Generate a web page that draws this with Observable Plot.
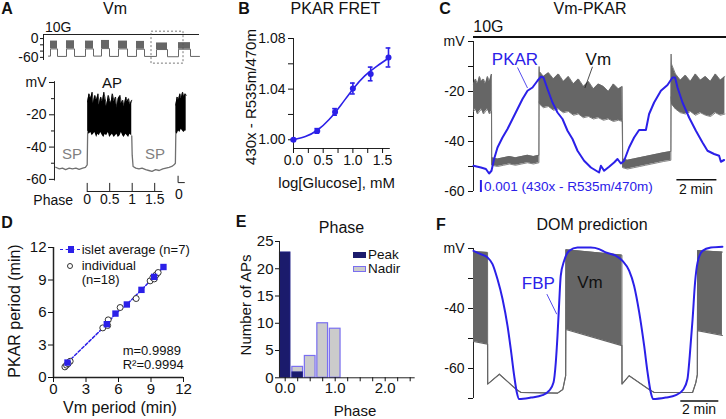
<!DOCTYPE html>
<html><head><meta charset="utf-8">
<script src="https://cdn.jsdelivr.net/npm/d3@7"></script>
<script src="https://cdn.jsdelivr.net/npm/@observablehq/plot@0.6"></script>
<style>
body{margin:0;background:#fff;}
#root{position:relative;width:726px;height:419px;overflow:hidden;font-family:'Liberation Sans',Arial,Helvetica,sans-serif;color:#111;background:#fff;}
.lb{position:absolute;white-space:nowrap;line-height:1;}
.bx{position:absolute;box-sizing:border-box;}
</style></head><body><div id="root"></div>
<script>
// ---------------- DATA ----------------
// Panel A, overview trace (time in min, mV)
const aTopStart=[1.4,4.6,8.4,11.6,15.0,18.6,22.6,27.0];
const aTopEnd=[2.8,6.2,10.0,13.2,16.8,20.2,24.8,29.4];
const aTopHi=[-8,-7,-8,-6,-8,-9,-14,-13];
const aTopLo=[-33,-33,-33,-32,-33,-34,-35,-34];
const aTopSilent=[-56,-57,-57,-56,-57,-57,-57,-58,-57];
const aTopRange=[1.0,31.2];
const aTopWindowT=[21.6,28.0], aTopWindowV=[-80,22];
const aTopStim=13;
const aTopTicks=[0,-60], aTopMinor=[-20,-40];
// Panel A, expanded trace (phase units, mV)
const aSP1T=[-0.70,-0.62,-0.55,-0.48,-0.40,-0.33,-0.25,-0.18,-0.10,-0.04,0.0,0.01];
const aSP1V=[-52.5,-53.5,-53,-54,-53,-53.5,-53,-53.8,-53,-52.5,-51,-31];
const aAP1T=[0.01,0.04,0.08,0.11,0.14,0.17,0.21,0.24,0.27,0.30,0.34,0.37,0.40,0.43,0.47,0.50,0.53,0.56,0.60,0.63,0.66,0.69,0.73,0.76,0.79,0.82,0.86,0.89,0.92,0.95,0.99];
const aAP1Hi=[-12,-7,-10,-6,-13,-8,-11,-7,-14,-9,-12,-6,-10,-15,-8,-11,-13,-7,-12,-9,-16,-10,-8,-13,-11,-15,-9,-12,-10,-14,-11];
const aAP1Lo=[-30,-32,-31,-33,-32,-31,-34,-32,-33,-31,-33,-34,-32,-33,-31,-34,-33,-32,-34,-33,-32,-34,-33,-31,-33,-34,-32,-33,-34,-32,-33];
const aSP2T=[0.99,1.0,1.02,1.08,1.15,1.22,1.30,1.37,1.44,1.52,1.60,1.68,1.75,1.82,1.88,1.93,1.96,1.97];
const aSP2V=[-33,-45,-52,-53,-53.5,-53,-54,-54.5,-55,-54,-54.5,-53.5,-53,-52.5,-52,-51,-50,-31];
const aAP2T=[1.97,2.0,2.03,2.06,2.09,2.12,2.15,2.18,2.2];
const aAP2Hi=[-14,-9,-11,-7,-10,-6,-9,-7,-8];
const aAP2Lo=[-31,-32,-30,-31,-29,-30,-31,-30,-30];
const aYTicks=[0,-20,-40,-60], aYMinor=[-10,-30,-50];
const aPhaseTicks=[0,0.5,1,1.5], aPhaseEnd=1.68;
const aRefX=[2.02,2.02,2.16], aRefY=[-58,-62,-62];
// Panel B
const bX=[0,0.4,0.7,1.0,1.3,1.6];
const bY=[1.000,1.007,1.022,1.0405,1.052,1.065];
const bErr=[0.0008,0.0018,0.0026,0.0043,0.0054,0.0075];
const bFitX=[0,0.2,0.4,0.6,0.8,1.0,1.2,1.4,1.6];
const bFitY=[1.000,1.0025,1.0075,1.016,1.0275,1.040,1.0505,1.058,1.0645];
const bYTicks=[1.00,1.04,1.08], bYMinor=[1.02,1.06];
const bXTicks=[0,0.5,1.0,1.5], bXMinor=[0.25,0.75,1.25];
// Panel C (time in min, mV; PKAR shown in mV-equivalent units)
const cT=[0,0.1,0.2,0.3,0.4,0.5,0.6,0.7,0.8,0.9,
  0.91,1.2,1.5,1.8,2.1,2.4,2.7,3.0,3.27,
  3.28,3.3,3.5,3.75,4.0,4.25,4.5,4.75,5.0,5.25,5.5,5.75,6.0,6.25,6.5,6.75,7.0,7.25,7.44,
  7.46,7.7,8.0,8.3,8.6,8.9,9.2,9.5,9.87,
  9.88,9.9,10.1,10.35,10.6,10.85,11.1,11.35,11.6,11.85,12.1,12.35,12.57];
const cHi=[-17,-15,-17,-14,-16,-15,-17,-14,-16,-13,
  -46.5,-47,-46.5,-46,-46.5,-46,-45.5,-46,-45.5,
  -10,-12,-14,-12.5,-15,-13,-16,-14,-17,-15,-18,-16,-19,-17,-18,-20,-17,-19,-18,
  -47,-47.5,-47,-46.5,-46,-45.5,-45,-44.5,-44,
  -5,-9,-13,-15.5,-13.5,-16,-13,-15.5,-14,-16,-13,-15.5,-14];
const cLo=[-28,-27,-29,-28,-27,-29,-28,-27,-29,-28,
  -49.5,-50,-49.5,-49,-49.5,-49,-48.5,-49,-48.5,
  -24,-25,-26.5,-26,-27.5,-27,-28.5,-28,-29.5,-29,-30.5,-30,-31,-30.5,-31.5,-31,-32,-31.5,-32,
  -50.5,-51,-50.5,-50,-49.5,-49,-48.5,-48,-47.5,
  -22,-25,-27,-28.5,-29,-28,-29.5,-28.5,-29.5,-30,-28.5,-29.5,-29];
const cPkT=[0,0.37,0.62,0.78,0.9,1.03,1.2,1.45,1.7,1.95,2.2,2.45,2.7,2.95,3.2,3.37,3.5,3.7,3.95,4.2,4.45,4.7,4.95,5.2,5.53,5.87,6.28,6.37,6.53,6.78,7.03,7.2,7.37,7.53,7.78,8.03,8.28,8.62,8.78,9.03,9.37,9.7,9.95,10.08,10.2,10.45,10.78,11.12,11.45,11.7,12.03,12.28,12.37,12.53];
const cPkV=[-49.7,-50.4,-51.0,-52.8,-51.7,-47.0,-42.4,-38.4,-35.0,-31.0,-27.0,-23.0,-19.7,-18.4,-15.7,-14.1,-14.4,-19.0,-24.4,-28.4,-31.0,-35.7,-39.0,-43.7,-47.7,-50.4,-52.4,-49.7,-51.7,-50.1,-48.4,-47.0,-48.8,-47.7,-42.4,-38.4,-35.4,-35.4,-29.0,-24.4,-19.7,-17.4,-14.4,-14.4,-18.4,-24.4,-30.4,-35.7,-40.4,-43.7,-45.0,-45.7,-48.1,-47.4];
const cDomain=[0,12.65], cStim=1.8;
const cYTicks=[0,-20,-40,-60], cYMinor=[-10,-30,-50];
const cLeadX1=[2.2,5.95], cLeadY1=[-10.4,-10.1], cLeadX2=[2.7,5.57], cLeadY2=[-18.6,-18.6];
const cRatioBarT=0.37, cRatioBarV=[-55.6,-60.4];
const cTimeBarT=[10.17,12.17], cTimeBarV=-55.3;
// Panel D
const dAvgX=[1.29,4.92,5.72,6.77,8.12,9.29,10.15];
const dAvgY=[1.38,4.92,5.9,6.74,8.09,9.29,10.2];
const dIndX=[1.05,1.2,1.54,1.35,4.55,5.05,5.0,6.15,7.63,8.92,9.17,9.48,9.66,9.3];
const dIndY=[0.98,1.14,1.5,1.28,4.58,5.32,4.8,6.46,7.29,8.92,9.23,9.48,9.69,9.1];
const dTicks=[0,3,6,9,12];
// Panel E
const eBins=[0,0.25,0.5,0.75,1.0];
const ePeak=[23,1,0,0,0];
const eNadir=[0,2,4,10,9];
const eYTicks=[0,5,10,15,20,25];
const eXTicks=[0,0.25,0.5,0.75,1.0,1.25,1.5,1.75,2.0,2.25,2.5], eXLabeled=[0,1,2];
const eDomainX=[-0.114,2.6];
// Panel F (time in min, mV; FBP in mV-equivalent units)
const fT=[0,0.74,0.745,1.36,2.24,2.5,4.43,4.7,4.85,4.86,7.81,7.815,8.19,9.24,9.51,11.53,11.7,11.78,11.79,13.1];
const fHi=[-21.0,-21.3,-65.2,-61.9,-66.9,-68,-68.2,-67,-62.4,-20.4,-22.2,-65.2,-62.4,-67,-68,-68,-64.7,-62,-20.7,-21.2];
const fLo=[-51.0,-51.9,-65.2,-61.9,-66.9,-68,-68.2,-67,-62.4,-47,-52.4,-65.2,-62.4,-67,-68,-68,-64.7,-62,-47.4,-49];
const fFbpT=[0,0.38,0.74,1.0,1.26,1.53,1.79,1.96,2.14,2.28,2.4,3.02,3.63,3.98,4.21,4.33,4.42,4.51,4.59,4.77,5.03,5.47,6.17,6.61,6.96,7.49,7.84,8.19,8.45,8.72,8.98,9.16,9.33,9.45,10.12,10.65,11.03,11.26,11.38,11.53,11.66,11.79,12.05,12.49,13.1];
const fFbpV=[-20.8,-21.9,-23.0,-25.2,-30.2,-36.9,-45.8,-53.5,-62.4,-68.0,-70.2,-69.7,-68.9,-67.4,-64.7,-58.0,-49.1,-38.0,-29.1,-24.1,-20.8,-19.7,-19.7,-20.2,-21.3,-22.4,-24.1,-27.4,-32.4,-41.3,-52.4,-61.3,-68.0,-70.2,-69.7,-68.9,-67.1,-63.5,-55.8,-43.5,-31.3,-24.7,-20.8,-19.7,-19.4];
const fDomain=[0,13.25];
const fYTicks=[-20,-40,-60], fYMinor=[-30,-50,-70];
const fLeadX=[3.86,4.38], fLeadY=[-35.2,-41.9];
const fTimeBarT=[10.91,12.91], fTimeBarV=-70.8;

// ---------------- HELPERS ----------------
const root=document.getElementById('root');
const FONT="'Liberation Sans', Arial, Helvetica, sans-serif";
const BLUE="#2b20e8", GRAY="#666", AXC="#222";
function mk(box, opts, fs){
  const [pt,pr,pb,pl]=box.pad;
  const svg=Plot.plot({
    width: box.x1-box.x0+pl+pr, height: box.yB-box.yT+pt+pb,
    marginTop:pt, marginRight:pr, marginBottom:pb, marginLeft:pl,
    style:{fontFamily:FONT,fontSize:(fs||14)+"px",color:"#111",background:"none",overflow:"visible"},
    ...opts
  });
  svg.style.position='absolute';
  svg.style.left=(box.x0-pl)+'px';
  svg.style.top=(box.yT-pt)+'px';
  root.appendChild(svg);
}
function lab(t,x,y,o={}){
  const d=document.createElement('div'); d.className='lb';
  d.textContent=t;
  d.style.left=x+'px'; d.style.top=y+'px';
  d.style.fontSize=(o.size||14)+'px';
  if(o.color) d.style.color=o.color;
  if(o.bold) d.style.fontWeight='bold';
  const ax=o.anchor==='start'?'0':o.anchor==='end'?'-100%':'-50%';
  d.style.transform=`translate(${ax},-50%)`+(o.rotate?` rotate(${o.rotate}deg)`:'');
  root.appendChild(d);
}
function box(x,y,w,h,css){
  const d=document.createElement('div'); d.className='bx';
  d.style.left=x+'px'; d.style.top=y+'px'; d.style.width=w+'px'; d.style.height=h+'px';
  Object.assign(d.style,css); root.appendChild(d);
}
const fmt=d=>String(d);
const blank=()=>"";

// ---------------- PANEL A (overview) ----------------
const aBursts=aTopStart.map((s,i)=>({s,e:aTopEnd[i],hi:aTopHi[i],lo:aTopLo[i]}));
const aTopLine=[]; {let t0=aTopRange[0];
  aBursts.forEach((b,i)=>{aTopLine.push({t:t0,v:aTopSilent[i]},{t:b.s,v:aTopSilent[i]},{t:b.s,v:b.lo},{t:b.e,v:b.lo}); t0=b.e;});
  aTopLine.push({t:t0,v:aTopSilent[aBursts.length]},{t:aTopRange[1],v:aTopSilent[aBursts.length]});}
mk({x0:43,x1:199,yT:34,yB:60,pad:[6,6,6,36]},{
  x:{domain:[0,31.2],axis:null}, y:{domain:[-70,aTopStim],axis:null},
  marks:[
    Plot.ruleY([aTopStim],{stroke:AXC,strokeWidth:1}),
    Plot.ruleX([0],{stroke:AXC}),
    Plot.axisY(aTopTicks,{tickSize:3,tickPadding:2,tickFormat:fmt,label:null}),
    Plot.axisY(aTopMinor,{tickSize:3,tickFormat:blank,label:null}),
    Plot.rectY(aBursts,{x1:"s",x2:"e",y1:"lo",y2:"hi",fill:GRAY}),
    Plot.line(aTopLine,{x:"t",y:"v",stroke:GRAY,strokeWidth:1}),
    Plot.rect([{x1:aTopWindowT[0],x2:aTopWindowT[1],y1:aTopWindowV[0],y2:aTopWindowV[1]}],{x1:"x1",x2:"x2",y1:"y1",y2:"y2",fill:"none",stroke:"#555",strokeDasharray:"2,2",strokeWidth:0.8})
  ]});

// ---------------- PANEL A (expanded) ----------------
const sp1=aSP1T.map((t,i)=>({t,v:aSP1V[i]}));
const sp2=aSP2T.map((t,i)=>({t,v:aSP2V[i]}));
const ap1=aAP1T.map((t,i)=>({t,hi:aAP1Hi[i],lo:aAP1Lo[i]}));
const ap2=aAP2T.map((t,i)=>({t,hi:aAP2Hi[i],lo:aAP2Lo[i]}));
const aRef=aRefX.map((x,i)=>({x,y:aRefY[i]}));
mk({x0:54.3,x1:186,yT:81.7,yB:190.7,pad:[6,10,16,50]},{
  x:{domain:[-0.727,2.2],axis:null}, y:{domain:[-67.5,0],axis:null},
  marks:[
    Plot.ruleX([-0.727],{y1:-61,y2:0.5,stroke:AXC}),
    Plot.axisY(aYTicks,{tickSize:5,tickPadding:3,tickFormat:d=>d===0?"mV":String(d),label:null}),
    Plot.axisY(aYMinor,{tickSize:3,tickFormat:blank,label:null}),
    Plot.ruleY([-67.5],{x1:0,x2:aPhaseEnd,stroke:AXC}),
    Plot.ruleX(aPhaseTicks,{y1:-67.5,y2:-62.5,stroke:AXC}),
    Plot.axisX(aPhaseTicks,{tickSize:0,tickPadding:3,tickFormat:fmt,label:null}),
    Plot.line(sp1,{x:"t",y:"v",stroke:"#707070",strokeWidth:1.3}),
    Plot.line(sp2,{x:"t",y:"v",stroke:"#707070",strokeWidth:1.3}),
    Plot.areaY(ap1,{x:"t",y1:"lo",y2:"hi",fill:"#000"}),
    Plot.line(ap1,{x:"t",y:"hi",stroke:"#000",strokeWidth:0.8}),
    Plot.areaY(ap2,{x:"t",y1:"lo",y2:"hi",fill:"#000"}),
    Plot.line(ap2,{x:"t",y:"hi",stroke:"#000",strokeWidth:0.8}),
    Plot.line(aRef,{x:"x",y:"y",stroke:AXC,strokeWidth:1})
  ]});

// ---------------- PANEL B ----------------
const bPts=bX.map((x,i)=>({x,y:bY[i],e:bErr[i]}));
const bFit=bFitX.map((x,i)=>({x,y:bFitY[i]}));
const CAP=0.04;
mk({x0:293.3,x1:388.3,yT:37.7,yB:147.7,pad:[8,10,20,40]},{
  x:{domain:[0,1.6],axis:null}, y:{domain:[0.9931,1.08],axis:null},
  marks:[
    Plot.ruleX([0],{stroke:AXC}),
    Plot.ruleY([0.9931],{x1:0,x2:1.63,stroke:AXC}),
    Plot.axisY(bYTicks,{tickSize:5,tickPadding:3,tickFormat:d=>d.toFixed(2),label:null}),
    Plot.axisY(bYMinor,{tickSize:5,tickFormat:blank,label:null}),
    Plot.axisX(bXTicks,{tickSize:5,tickPadding:2,tickFormat:d=>d.toFixed(1),label:null}),
    Plot.axisX(bXMinor,{tickSize:5,tickFormat:blank,label:null}),
    Plot.line(bFit,{x:"x",y:"y",curve:"natural",stroke:BLUE,strokeWidth:1.6}),
    Plot.ruleX(bPts,{x:"x",y1:d=>d.y-d.e,y2:d=>d.y+d.e,stroke:BLUE,strokeWidth:1.6}),
    Plot.ruleY(bPts,{y:d=>d.y+d.e,x1:d=>d.x-CAP,x2:d=>d.x+CAP,stroke:BLUE,strokeWidth:1.6}),
    Plot.ruleY(bPts,{y:d=>d.y-d.e,x1:d=>d.x-CAP,x2:d=>d.x+CAP,stroke:BLUE,strokeWidth:1.6}),
    Plot.dot(bPts,{x:"x",y:"y",r:3,fill:BLUE})
  ]});

// ---------------- PANEL C ----------------
const cVm=cT.map((t,i)=>({t,hi:cHi[i],lo:cLo[i]}));
const cPk=cPkT.map((t,i)=>({t,v:cPkV[i]}));
const cLead=cLeadX1.map((x,i)=>({x1:x,y1:cLeadY1[i],x2:cLeadX2[i],y2:cLeadY2[i],c:i===0?BLUE:AXC}));
mk({x0:472.7,x1:725.7,yT:40.7,yB:190.7,pad:[10,0,6,40]},{
  x:{domain:cDomain,axis:null}, y:{domain:[-60,0],axis:null},
  marks:[
    Plot.ruleY([cStim],{x1:cDomain[0],x2:cDomain[1],stroke:"#111",strokeWidth:2}),
    Plot.ruleX([0],{stroke:AXC}),
    Plot.axisY(cYTicks,{tickSize:5,tickPadding:4,tickFormat:d=>d===0?"mV":String(d),label:null}),
    Plot.axisY(cYMinor,{tickSize:5,tickFormat:blank,label:null}),
    Plot.areaY(cVm,{x:"t",y1:"lo",y2:"hi",fill:GRAY}),
    Plot.line(cVm,{x:"t",y:"hi",stroke:GRAY,strokeWidth:0.8}),
    Plot.line(cVm,{x:"t",y:"lo",stroke:GRAY,strokeWidth:0.8}),
    Plot.line(cPk,{x:"t",y:"v",stroke:BLUE,strokeWidth:2}),
    Plot.link(cLead,{x1:"x1",y1:"y1",x2:"x2",y2:"y2",stroke:"c",strokeWidth:0.8}),
    Plot.ruleX([cRatioBarT],{y1:cRatioBarV[0],y2:cRatioBarV[1],stroke:BLUE,strokeWidth:2}),
    Plot.ruleY([cTimeBarV],{x1:cTimeBarT[0],x2:cTimeBarT[1],stroke:"#111",strokeWidth:1.5})
  ]});

// ---------------- PANEL D ----------------
const dAvg=dAvgX.map((x,i)=>({x,y:dAvgY[i]}));
const dInd=dIndX.map((x,i)=>({x,y:dIndY[i]}));
mk({x0:52.7,x1:182.7,yT:246.7,yB:376.7,pad:[8,12,22,40]},{
  x:{domain:[0,12],axis:null}, y:{domain:[0,12],axis:null},
  marks:[
    Plot.ruleX([0],{stroke:AXC,strokeWidth:1.5}),
    Plot.ruleY([0],{stroke:AXC,strokeWidth:1.5}),
    Plot.axisY(dTicks,{tickSize:5,tickPadding:2,tickFormat:fmt,label:null}),
    Plot.axisX(dTicks,{tickSize:5,tickPadding:1,tickFormat:fmt,label:null}),
    Plot.line(dAvg,{x:"x",y:"y",stroke:BLUE,strokeWidth:1.5,strokeDasharray:"3,2"}),
    Plot.dot(dInd,{x:"x",y:"y",r:3,stroke:"#333",fill:"white",strokeWidth:1}),
    Plot.dot(dAvg,{x:"x",y:"y",symbol:"square",r:3.6,fill:BLUE})
  ]}, 15);

// ---------------- PANEL E ----------------
const BW=0.107;
const eNad=eBins.map((b,i)=>({b,n:eNadir[i]})).filter(d=>d.n>0);
const ePk=eBins.map((b,i)=>({b,n:ePeak[i]})).filter(d=>d.n>0);
mk({x0:279.3,x1:415,yT:241,yB:377.3,pad:[8,8,20,30]},{
  x:{domain:eDomainX,axis:null}, y:{domain:[0,25],axis:null},
  marks:[
    Plot.rectY(eNad,{x1:d=>d.b-BW,x2:d=>d.b+BW,y1:0,y2:"n",fill:"#cbcbcb",stroke:"#7a6ff0",strokeWidth:1.2}),
    Plot.rectY(ePk,{x1:d=>d.b-BW,x2:d=>d.b+BW,y1:0,y2:"n",fill:"#1b1b6c",stroke:"#23238a",strokeWidth:0.8}),
    Plot.ruleX([eDomainX[0]],{stroke:AXC}),
    Plot.ruleY([0],{stroke:AXC}),
    Plot.axisY(eYTicks,{tickSize:4,tickPadding:2,tickFormat:fmt,label:null}),
    Plot.axisX(eXTicks,{tickSize:4,tickPadding:1,tickFormat:d=>eXLabeled.includes(d)?d.toFixed(1):"",label:null})
  ]}, 15);

// ---------------- PANEL F ----------------
const fVm=fT.map((t,i)=>({t,hi:fHi[i],lo:fLo[i]}));
const fFbp=fFbpT.map((t,i)=>({t,v:fFbpV[i]}));
mk({x0:472.7,x1:724.5,yT:247.7,yB:397.7,pad:[8,1,8,40]},{
  x:{domain:fDomain,axis:null}, y:{domain:[-70,-20],axis:null},
  marks:[
    Plot.ruleX([0],{stroke:AXC}),
    Plot.axisY(fYTicks,{tickSize:5,tickPadding:4,tickFormat:d=>d===-20?"mV":String(d),label:null}),
    Plot.axisY(fYMinor,{tickSize:5,tickFormat:blank,label:null}),
    Plot.areaY(fVm,{x:"t",y1:"lo",y2:"hi",fill:GRAY}),
    Plot.line(fVm,{x:"t",y:"hi",stroke:GRAY,strokeWidth:1}),
    Plot.line(fVm,{x:"t",y:"lo",stroke:GRAY,strokeWidth:1.2}),
    Plot.line(fFbp,{x:"t",y:"v",stroke:BLUE,strokeWidth:2,curve:"monotone-x"}),
    Plot.link([{x1:fLeadX[0],y1:fLeadY[0],x2:fLeadX[1],y2:fLeadY[1]}],{x1:"x1",y1:"y1",x2:"x2",y2:"y2",stroke:BLUE,strokeWidth:0.8}),
    Plot.ruleY([fTimeBarV],{x1:fTimeBarT[0],x2:fTimeBarT[1],stroke:"#111",strokeWidth:1.5})
  ]});

// ---------------- TEXT ----------------
// A
lab("A",7,9,{bold:true,size:16});
lab("Vm",115,9,{size:16});
lab("10G",45,27,{anchor:"start",size:14});
lab("AP",112,82,{size:15});
lab("SP",72,153,{size:15,color:"#808080"});
lab("SP",155,153,{size:15,color:"#808080"});
lab("Phase",73,200,{anchor:"end",size:14});
lab("0",179,194,{size:14});
// B
lab("B",244,9,{bold:true,size:16});
lab("PKAR FRET",335.5,9,{size:16});
lab("430x - R535m/470m",250,97,{size:15,rotate:-90});
lab("log[Glucose], mM",336.7,181.7,{size:15});
// C
lab("C",445,9,{bold:true,size:16});
lab("Vm-PKAR",590,9,{size:16});
lab("10G",473.3,27,{anchor:"start",size:16});
lab("PKAR",515,59.3,{size:17,color:BLUE});
lab("Vm",598.3,59.3,{size:17});
lab("0.001 (430x - R535m/470m)",484,187.3,{anchor:"start",size:13.5,color:BLUE});
lab("2 min",696,189,{size:14});
// D
lab("D",7,223,{bold:true,size:16});
lab("PKAR period (min)",15,311,{size:16,rotate:-90});
lab("Vm period (min)",120,408,{size:16});
box(60,248.5,20,0,{borderTop:"1.5px dashed "+BLUE});
box(67.5,246,6.5,6.5,{background:BLUE});
lab("islet average (n=7)",81.7,249.3,{anchor:"start",size:13});
box(66.5,262.5,6,6,{border:"1px solid #333",borderRadius:"50%",background:"#fff"});
lab("individual",81.7,265.3,{anchor:"start",size:13});
lab("(n=18)",81.7,279,{anchor:"start",size:13});
lab("m=0.9989",122.7,350.3,{anchor:"start",size:13});
lab("R²=0.9994",122.7,364.2,{anchor:"start",size:13});
// E
lab("E",241,222,{bold:true,size:16});
lab("Phase",341.5,228.3,{size:16});
lab("Number of APs",245,305,{size:15,rotate:-90});
lab("Phase",355,410,{size:15});
box(353.3,252.4,12.7,5.8,{background:"#1b1b6c"});
lab("Peak",368,255.2,{anchor:"start",size:13.5});
box(353.3,265.8,12.7,5.8,{background:"#cbcbcb",border:"1px solid #7a6ff0"});
lab("Nadir",368,269.2,{anchor:"start",size:13.5});
// F
lab("F",441,225,{bold:true,size:16});
lab("DOM prediction",592,225,{size:16});
lab("FBP",538.3,283.3,{size:17,color:BLUE});
lab("Vm",590,281.7,{size:17});
lab("2 min",699,409,{size:14});
</script></body></html>
